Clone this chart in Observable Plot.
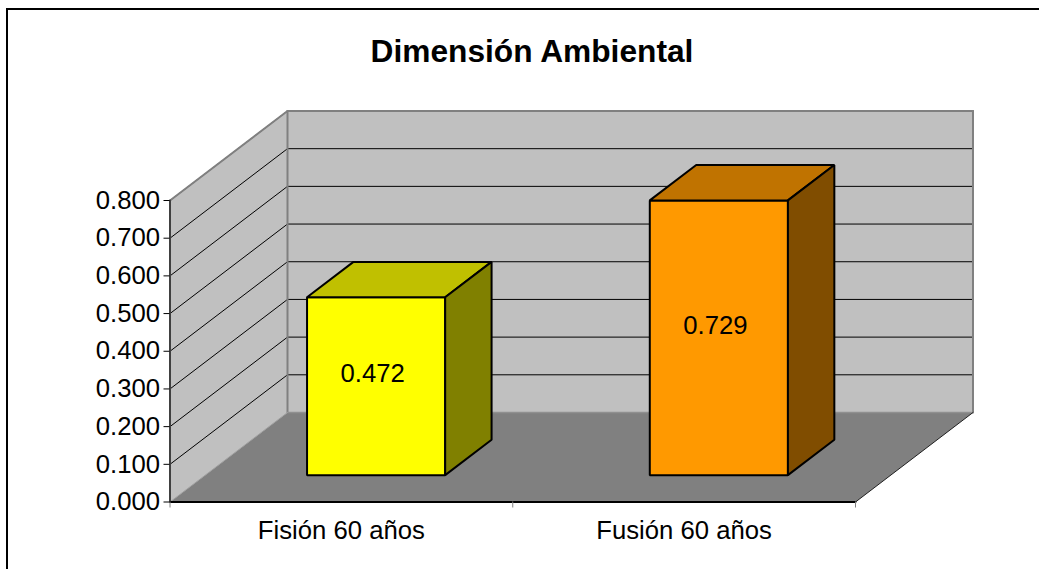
<!DOCTYPE html>
<html lang="es">
<head>
<meta charset="utf-8">
<title>Dimensión Ambiental</title>
<script src="https://cdn.jsdelivr.net/npm/d3@7"></script>
<script src="https://cdn.jsdelivr.net/npm/@observablehq/plot@0.6"></script>
<style>
  html, body { margin: 0; padding: 0; background: #fff; overflow: hidden; }
  #chart { position: relative; width: 1039px; height: 569px; overflow: hidden; }
  #chart figure { margin: 0; }
  #chart h2 {
    margin: 0; box-sizing: border-box; width: 1064px; height: 96px; padding-top: 33px;
    text-align: center; font: bold 31.7px/36px "Liberation Sans", Arial, sans-serif; color: #000;
  }
  #edge {
    position: absolute; left: 6px; top: 8px; width: 1100px; height: 700px;
    border-left: 2px solid #000; border-top: 2px solid #000; pointer-events: none;
  }
</style>
</head>
<body>
<div id="chart"></div>
<script>
const chartTitle = "Dimensión Ambiental";
const categories = ["Fisión 60 años", "Fusión 60 años"];
const values = [0.472, 0.729];
const yTicks = [0, 0.1, 0.2, 0.3, 0.4, 0.5, 0.6, 0.7, 0.8];
const xTicks = [0, 1, 2];
const frontColors = ["#ffff00", "#ff9900"];
const topColors = ["#c0c000", "#c07300"];
const sideColors = ["#808000", "#804d00"];

// Oblique projection: depth z (0 front, 1 back) shifts a point in data units
const depthX = 0.3428, depthY = 0.2375;
const yMax = 0.8, xMax = 2;
const P = (c, v, z = 0) => ({x: c + z * depthX, y: v + z * depthY});

const face = (pts, fill, stroke, strokeWidth) =>
  Plot.line(pts, {x: "x", y: "y", curve: "linear-closed", fill, stroke: stroke ?? "none", strokeWidth, strokeLinejoin: "miter"});
const seg = (a, b, stroke, strokeWidth) =>
  Plot.line([a, b], {x: "x", y: "y", stroke, strokeWidth});

const marks = [];
// Walls and floor
marks.push(face([P(0, 0, 1), P(xMax, 0, 1), P(xMax, yMax, 1), P(0, yMax, 1)], "#c0c0c0"));
marks.push(face([P(0, 0), P(0, 0, 1), P(0, yMax, 1), P(0, yMax)], "#c0c0c0"));
marks.push(face([P(0, 0), P(xMax, 0), P(xMax, 0, 1), P(0, 0, 1)], "#808080"));
// Gridlines
for (const t of yTicks.slice(1)) {
  marks.push(seg(P(0, t), P(0, t, 1), "#000", 1));
  marks.push(seg(P(0, t, 1), P(xMax, t, 1), "#000", 1));
}
// Wall edges
marks.push(seg(P(0, yMax), P(0, yMax, 1), "#808080", 2));
marks.push(seg(P(0, yMax, 1), P(xMax, yMax, 1), "#808080", 2));
marks.push(seg(P(0, 0, 1), P(0, yMax, 1), "#808080", 2));
marks.push(seg(P(xMax, 0, 1), P(xMax, yMax, 1), "#808080", 2));
marks.push(seg(P(0, 0, 1), P(xMax, 0, 1), "#909090", 1.5));
marks.push(seg(P(0, 0), P(0, 0, 1), "#a0a0a0", 1));
marks.push(seg(P(0, 0), P(0, yMax), "#404040", 2));
marks.push(seg(P(xMax, 0), P(xMax, 0, 1), "#202020", 1));
marks.push(seg(P(0, 0), P(xMax, 0), "#000", 2));
// Bars
const zA = 0.30, zB = 0.695, inset0 = 0.297, inset1 = 0.70;
values.forEach((v, i) => {
  const a = i + inset0, b = i + inset1;
  marks.push(face([P(a, 0, zA), P(b, 0, zA), P(b, v, zA), P(a, v, zA)], frontColors[i], "#000", 2));
  marks.push(face([P(a, v, zA), P(b, v, zA), P(b, v, zB), P(a, v, zB)], topColors[i], "#000", 2));
  marks.push(face([P(b, 0, zA), P(b, 0, zB), P(b, v, zB), P(b, v, zA)], sideColors[i], "#000", 2));
});
// Value labels
marks.push(Plot.text(values.map((v, i) => ({...P(i + 0.5, v / 2, zA), v})), {
  x: "x", y: "y", text: d => d.v.toFixed(3), dx: -4, dy: -12, fill: "#000"
}));
// Axes
marks.push(Plot.axisY({ticks: yTicks, tickFormat: ".3f", tickSize: 6, tickPadding: 4, label: null, stroke: "#000", fill: "#000", strokeOpacity: 1}));
marks.push(Plot.axisX({ticks: xTicks, tickFormat: () => "", tickSize: 6, label: null, stroke: "#808080", strokeOpacity: 1}));
marks.push(Plot.text(categories, {x: (d, i) => i + 0.5, y: () => 0, dy: 29, fill: "#000"}));

const fig = Plot.plot({
  title: chartTitle,
  width: 1039,
  height: 473,
  marginLeft: 169.5,
  marginRight: 184,
  marginTop: 104,
  marginBottom: 67.5,
  x: {type: "linear", domain: [0, xMax]},
  y: {type: "linear", domain: [0, yMax]},
  style: {fontFamily: "'Liberation Sans', Arial, sans-serif", fontSize: "25.7px", background: "transparent", overflow: "visible", color: "#000"},
  marks
});
const host = document.getElementById("chart");
host.append(fig);
const edge = document.createElement("div");
edge.id = "edge";
host.append(edge);
</script>
</body>
</html>
